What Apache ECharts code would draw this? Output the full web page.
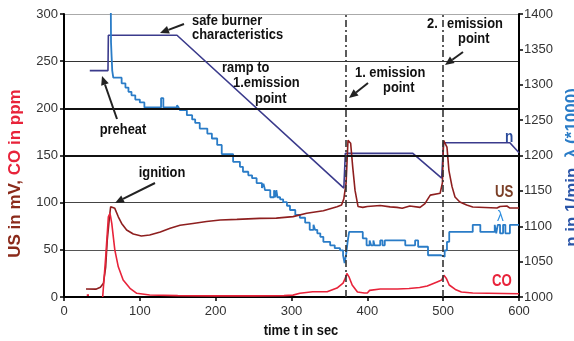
<!DOCTYPE html>
<html>
<head>
<meta charset="utf-8">
<script src="https://cdn.jsdelivr.net/npm/echarts@6/dist/echarts.min.js"></script>
<style>
  html, body { margin: 0; padding: 0; background: #fff; }
  #chart { width: 574px; height: 341px; }
</style>
</head>
<body>
<div id="chart"></div>
<script>
// time axis (sec)
const xTicks = [0, 100, 200, 300, 400, 500, 600];
// emission points (sec)
const emissionPoints = [371, 500];

// burner speed n, 1/min (right axis)
const nData = [
  [34, 1320], [58, 1320], [58.5, 1370], [149, 1370], [369, 1154], [370.5, 1154],
  [371, 1203], [460, 1203], [498, 1168], [499.5, 1168], [500.5, 1218], [588, 1218], [600, 1204]
];

// lambda * 1000 (right axis), stepped signal
const lambdaData = [
  [61.5, 1450], [62, 1360], [62.8, 1340], [63.6, 1320], [65, 1310], [76, 1302], [81, 1296],
  [85, 1290], [89, 1285], [94, 1279], [100, 1275], [106, 1268], [128, 1281], [131, 1268],
  [149, 1271], [151, 1268], [153, 1264], [162, 1257], [169, 1251], [173, 1246], [179, 1238],
  [189, 1231], [195, 1224], [202, 1215], [208, 1202], [223, 1191], [232, 1184], [236, 1177],
  [243, 1172], [248, 1168], [254, 1161], [261, 1154], [263, 1160], [264.5, 1154], [265, 1151],
  [272, 1141], [277, 1151], [278.5, 1141], [280, 1151], [281.5, 1141], [285, 1138], [289, 1134],
  [294, 1129], [298, 1123], [305, 1116], [311, 1112], [318, 1105], [324, 1095], [329, 1102],
  [331, 1095], [334, 1090], [338, 1085], [342, 1078], [351, 1073], [357, 1069], [364, 1066],
  [368, 1059], [370, 1048], [372, 1060], [374, 1078], [376, 1092], [394, 1083], [399, 1073],
  [403, 1080], [405, 1073], [408, 1080], [409.5, 1073], [417, 1080], [420, 1073], [423, 1080],
  [450, 1073], [463, 1080], [467, 1071], [480, 1059], [497, 1057], [502, 1066], [505, 1078],
  [508, 1092], [539, 1102], [549, 1092], [568, 1102], [570, 1090], [572, 1102], [575, 1090],
  [579, 1102], [582, 1090], [588, 1102], [600, 1102]
];

// sensor signal US, mV (left axis)
const usData = [
  [29, 8.5], [42, 8.3], [48, 10.4], [52, 14.5], [55, 32], [57, 60], [60, 85], [61.5, 95.7],
  [64, 97.5], [67, 94], [71.6, 85], [76, 78], [82.6, 71], [91.4, 66.8], [102, 64.7], [113, 65.7],
  [127, 69], [140, 72.8], [153, 76], [170, 78], [188, 80], [206, 81.6], [228, 82.3], [258, 83.4],
  [280, 83.6], [302, 85.2], [320, 88.7], [342, 91.5], [360, 95.7], [366, 97.5], [369, 104],
  [372, 121], [374.5, 166], [378, 163], [380.7, 138], [383.8, 113], [387.7, 96], [394, 95],
  [400, 96], [402, 94.5], [417, 97], [430, 95.5], [439, 95], [446, 94], [456, 96.5], [469.5, 95],
  [476, 99], [479, 103], [483, 108], [496, 110], [499, 121], [500.5, 166], [502.4, 168],
  [505, 159], [507.6, 134], [511.7, 117], [515.6, 106], [522, 100.7], [531, 97.5], [539, 95.4],
  [571, 94.3], [575, 96], [584, 96.5], [588, 94.3], [600, 94.3]
];

// CO, ppm (left axis)
const coData = [
  [30, 2], [33, 2], [40, '-'], [51, 0], [53, 0.5], [55, 42.7], [58.5, 85], [60.7, 88.7], [63, 78],
  [67, 50], [71.6, 32], [78, 18], [87, 9.2], [96, 3.9], [113, 2.1], [150, 1.5], [200, 1.2],
  [250, 1.2], [290, 1.5], [302, 2], [311, 3.9], [328, 5.6], [347, 5.6], [360, 9.5], [368, 14.8],
  [371, 20], [373, 25], [376, 21], [380, 12.7], [387, 5.3], [396, 4.2], [400, 4.2], [403, 7],
  [417, 8.5], [440, 8.5], [455, 9], [469, 10], [479, 11.7], [492, 16], [498, 18], [501, 23],
  [504, 20], [508, 12.7], [516, 8], [524, 5.3], [539, 4.2], [600, 3.5]
];

const FONT = '"Liberation Sans", Arial, sans-serif';
const SQ = 0.86; // text in the source figure is squeezed horizontally

function txt(text, x, y, opts) {
  opts = opts || {};
  return {
    type: 'text', x: x, y: y, scaleX: opts.scaleX || SQ, z: 100,
    style: {
      text: text,
      font: (opts.weight || 'bold') + ' ' + (opts.size || 15) + 'px ' + FONT,
      fill: opts.color || '#111',
      textAlign: opts.align || 'left', align: opts.align || 'left',
      textVerticalAlign: 'middle', verticalAlign: 'middle'
    }
  };
}

function arrow(x1, y1, x2, y2) {
  const a = Math.atan2(y2 - y1, x2 - x1), L = 9, W = 4;
  const bx = x2 - L * Math.cos(a), by = y2 - L * Math.sin(a);
  return [
    { type: 'line', z: 100, shape: { x1: x1, y1: y1, x2: bx, y2: by }, style: { stroke: '#222', lineWidth: 2 } },
    { type: 'polygon', z: 100, shape: { points: [[x2, y2], [bx - W * Math.sin(a), by + W * Math.cos(a)], [bx + W * Math.sin(a), by - W * Math.cos(a)]] }, style: { fill: '#222' } }
  ];
}

const annotations = [
  txt('safe burner', 192, 21), txt('characteristics', 192, 35),
  txt('ramp to', 222, 68), txt('1.emission', 233, 83), txt('point', 255, 99),
  txt('preheat', 123, 130, { align: 'center' }),
  txt('ignition', 162, 173, { align: 'center' }),
  txt('1. emission', 355, 73), txt('point', 383, 88),
  txt('2.', 427, 24), txt('emission', 447, 24), txt('point', 458, 39),
  txt('time t in sec', 301, 331, { align: 'center' }),
  txt('n', 505, 137, { size: 17, color: '#2a4a9a', scaleX: 0.8 }),
  txt('US', 495, 192, { size: 17, color: '#7b3f27', scaleX: 0.78 }),
  txt('λ', 497, 217, { size: 15, color: '#2f8fdf', weight: 'normal', scaleX: 0.9 }),
  txt('CO', 492, 281, { size: 17, color: '#e8233a', scaleX: 0.78 })
].concat(
  arrow(184, 24, 160, 33),
  arrow(117, 119, 102, 76),
  arrow(155, 183, 115, 203),
  arrow(368, 83, 349, 98),
  arrow(463, 52, 445, 65)
);

const chart = echarts.init(document.getElementById('chart'), null, { renderer: 'canvas' });

const axisLabel = { fontSize: 13, color: '#333', fontFamily: FONT, formatter: v => String(v) };

chart.setOption({
  animation: false,
  backgroundColor: '#fff',
  grid: { left: 64, right: 55, top: 14, bottom: 44, containLabel: false, outerBoundsMode: 'none' },
  xAxis: {
    type: 'value', min: xTicks[0], max: xTicks[xTicks.length - 1], interval: 100,
    axisLine: { lineStyle: { color: '#000', width: 2 } },
    axisTick: { length: 4, lineStyle: { color: '#000', width: 1.5 } },
    axisLabel: Object.assign({ margin: 8 }, axisLabel),
    splitLine: { show: false }
  },
  yAxis: [
    {
      type: 'value', min: 0, max: 300, interval: 50,
      name: '{a|US in mV,} {b|CO in ppm}', nameLocation: 'middle', nameGap: 40, nameRotate: 90,
      nameTextStyle: {
        fontSize: 17, fontWeight: 'bold', fontFamily: FONT, padding: [0, 36, 0, 0],
        rich: {
          a: { color: '#8b2a1a', fontSize: 17, fontWeight: 'bold', fontFamily: FONT },
          b: { color: '#e8233a', fontSize: 17, fontWeight: 'bold', fontFamily: FONT }
        }
      },
      axisLine: { show: true, lineStyle: { color: '#000', width: 2 } },
      axisTick: { show: true, length: 4, lineStyle: { color: '#000', width: 1.5 } },
      axisLabel: Object.assign({ margin: 6 }, axisLabel),
      splitLine: { show: true, lineStyle: { color: ['#000', '#555', '#444', '#111', '#111', '#333', '#aaa'], width: 1.2 } }
    },
    {
      type: 'value', min: 1000, max: 1400, interval: 50, position: 'right',
      name: '{a|n in 1/min,} {b|λ (*1000)}', nameLocation: 'middle', nameGap: 44, nameRotate: 90,
      nameTextStyle: {
        fontSize: 17, fontWeight: 'bold', fontFamily: FONT, padding: [0, 24, 0, 0],
        rich: {
          a: { color: '#2a55a8', fontSize: 17, fontWeight: 'bold', fontFamily: FONT },
          b: { color: '#2a7cc7', fontSize: 17, fontWeight: 'bold', fontFamily: FONT }
        }
      },
      axisLine: { show: true, lineStyle: { color: '#000', width: 2 } },
      axisTick: { show: true, length: 4, lineStyle: { color: '#000', width: 1.5 } },
      axisLabel: Object.assign({ margin: 5 }, axisLabel),
      splitLine: { show: false }
    }
  ],
  series: [
    {
      name: 'US', type: 'line', yAxisIndex: 0, data: usData, showSymbol: false,
      lineStyle: { color: '#8e1f1f', width: 1.6 }, z: 4,
      markLine: {
        silent: true, symbol: 'none', label: { show: false },
        data: [
          { yAxis: 200, lineStyle: { color: '#111', width: 2.2, type: 'solid' } },
          { yAxis: 150, lineStyle: { color: '#111', width: 2.2, type: 'solid' } }
        ].concat(emissionPoints.map(t => ({ xAxis: t, lineStyle: { color: '#333', width: 1.6, type: [7, 3, 2, 3] } })))
      }
    },
    {
      name: 'CO', type: 'line', yAxisIndex: 0, data: coData, showSymbol: false,
      lineStyle: { color: '#e8233a', width: 1.6 }, z: 4
    },
    {
      name: 'n', type: 'line', yAxisIndex: 1, data: nData, showSymbol: false,
      lineStyle: { color: '#3b3b8c', width: 1.6 }, z: 3
    },
    {
      name: 'lambda', type: 'line', yAxisIndex: 1, data: lambdaData, showSymbol: false, step: 'end',
      lineStyle: { color: '#2a7cc7', width: 1.8 }, z: 3
    }
  ],
  graphic: annotations
});
</script>
</body>
</html>
